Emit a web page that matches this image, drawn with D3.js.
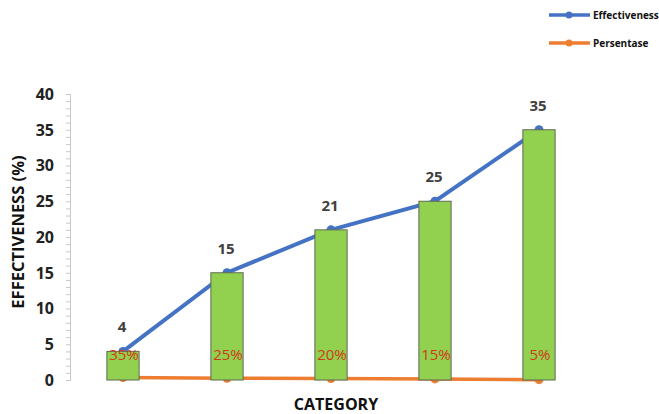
<!DOCTYPE html>
<html>
<head>
<meta charset="utf-8">
<script src="https://cdn.jsdelivr.net/npm/d3@7"></script>
<style>
  body { margin: 0; background: #fff; }
  svg { display: block; font-family: "Open Sans", "Noto Sans", sans-serif; }
</style>
</head>
<body>
<div id="chart"></div>
<script>
(function() {
"use strict";

var categories = ["A", "B", "C", "D", "E"];
var effectiveness = [4, 15, 21, 25, 35];
var persentase = [0.35, 0.25, 0.20, 0.15, 0.05];
var percentLabels = ["35%", "25%", "20%", "15%", "5%"];
var yTicks = [0, 5, 10, 15, 20, 25, 30, 35, 40];

var W = 659, H = 414;
var blue = "#4472C4", orange = "#ED7D31", green = "#92D050";

var svg = d3.select("#chart").append("svg")
    .attr("width", W).attr("height", H);

var x = d3.scaleBand().domain(categories).range([71, 591]).paddingInner(0.69).paddingOuter(0.345);
var y = d3.scaleLinear().domain([0, 40]).range([380, 94]);
function cx(i) { return x(categories[i]) + x.bandwidth() / 2; }

// y axis with minor ticks
var minor = d3.range(0, 41, 1);
svg.append("g").attr("transform", "translate(70,0)")
    .selectAll("line").data(minor).enter().append("line")
    .attr("x1", -4).attr("x2", 0)
    .attr("y1", function(d) { return y(d) + 0.5; })
    .attr("y2", function(d) { return y(d) + 0.5; })
    .attr("stroke", "#c8c8c8");
svg.append("line").attr("x1", 70.5).attr("x2", 70.5)
    .attr("y1", y(40)).attr("y2", y(0) + 1).attr("stroke", "#c8c8c8");

svg.append("g").selectAll("text").data(yTicks).enter().append("text")
    .attr("x", 54).attr("y", function(d) { return y(d); })
    .attr("dy", "0.36em").attr("text-anchor", "end")
    .attr("font-size", 16).attr("font-weight", "bold").attr("fill", "#222")
    .text(function(d) { return d; });

var line = d3.line()
    .x(function(d, i) { return cx(i); })
    .y(function(d) { return y(d); });

// lines behind bars
svg.append("path").datum(persentase).attr("d", line)
    .attr("fill", "none").attr("stroke", orange).attr("stroke-width", 3.5);
svg.append("g").selectAll("circle").data(persentase).enter().append("circle")
    .attr("cx", function(d, i) { return cx(i); }).attr("cy", function(d) { return y(d); })
    .attr("r", 4.5).attr("fill", orange);

svg.append("path").datum(effectiveness).attr("d", line)
    .attr("fill", "none").attr("stroke", blue).attr("stroke-width", 4);
svg.append("g").selectAll("circle").data(effectiveness).enter().append("circle")
    .attr("cx", function(d, i) { return cx(i); }).attr("cy", function(d) { return y(d); })
    .attr("r", 4.5).attr("fill", blue);

// bars
svg.append("g").selectAll("rect").data(effectiveness).enter().append("rect")
    .attr("x", function(d, i) { return x(categories[i]); })
    .attr("y", function(d) { return y(d); })
    .attr("width", x.bandwidth())
    .attr("height", function(d) { return y(0) - y(d); })
    .attr("fill", green).attr("stroke", "#5f6b55").attr("stroke-width", 1);

// value labels
svg.append("g").selectAll("text").data(effectiveness).enter().append("text")
    .attr("x", function(d, i) { return cx(i) - 1; })
    .attr("y", function(d) { return y(d) - 19; })
    .attr("text-anchor", "middle")
    .attr("font-size", 15).attr("font-weight", "bold").attr("fill", "#404040")
    .text(function(d) { return d; });

// percent labels
svg.append("g").selectAll("text").data(percentLabels).enter().append("text")
    .attr("x", function(d, i) { return cx(i) + 1; })
    .attr("y", 360)
    .attr("text-anchor", "middle")
    .attr("font-size", 15).attr("fill", "#D03A1A")
    .text(function(d) { return d; });

// axis titles
svg.append("text").attr("transform", "translate(24,232) rotate(-90)")
    .attr("text-anchor", "middle").attr("font-size", 16.5).attr("font-weight", "bold")
    .attr("fill", "#111").text("EFFECTIVENESS (%)");
svg.append("text").attr("x", 336).attr("y", 410)
    .attr("text-anchor", "middle").attr("font-size", 16).attr("font-weight", "bold")
    .attr("fill", "#111").text("CATEGORY");

// legend
var legend = [{name: "Effectiveness", color: blue, y: 15}, {name: "Persentase", color: orange, y: 43}];
var lg = svg.append("g").selectAll("g").data(legend).enter().append("g");
lg.append("line").attr("x1", 549).attr("x2", 590)
    .attr("y1", function(d) { return d.y; }).attr("y2", function(d) { return d.y; })
    .attr("stroke", function(d) { return d.color; }).attr("stroke-width", 3.5);
lg.append("circle").attr("cx", 569).attr("cy", function(d) { return d.y; })
    .attr("r", 3.5).attr("fill", function(d) { return d.color; });
lg.append("text").attr("x", 593).attr("y", function(d) { return d.y; })
    .attr("dy", "0.35em").attr("font-size", 10).attr("font-weight", "bold").attr("fill", "#111")
    .text(function(d) { return d.name; });

})();
</script>
</body>
</html>
